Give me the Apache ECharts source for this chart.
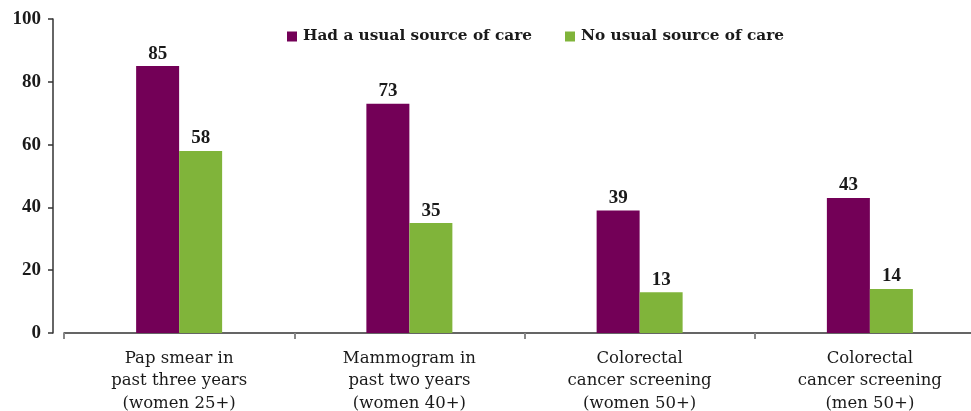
<!DOCTYPE html>
<html>
<head>
<meta charset="utf-8">
<script src="https://cdn.jsdelivr.net/npm/echarts@6/dist/echarts.min.js"></script>
<style>
html,body{margin:0;padding:0;background:#fff;}
#chart{width:971px;height:411px;}
</style>
</head>
<body>
<div id="chart"></div>
<script>
var categories = [
  "Pap smear in\npast three years\n(women 25+)",
  "Mammogram in\npast two years\n(women 40+)",
  "Colorectal\ncancer screening\n(women 50+)",
  "Colorectal\ncancer screening\n(men 50+)"
];
var seriesNames = ["Had a usual source of care", "No usual source of care"];
var hadUsualSource = [85, 73, 39, 43];
var noUsualSource = [58, 35, 13, 14];
var yTicks = [0, 20, 40, 60, 80, 100];

var NUMFONT = "'Liberation Serif', 'Times New Roman', serif";
var TXTFONT = "'DejaVu Serif', serif";
var chart = echarts.init(document.getElementById('chart'), null, {renderer: 'canvas'});
var labelStyle = {
  show: true, position: 'top', distance: 3,
  fontFamily: NUMFONT, fontWeight: 'bold', fontSize: 19, color: '#1a1a1a'
};
chart.setOption({
  animation: false,
  backgroundColor: '#ffffff',
  legend: {
    left: 282, top: 24,
    itemWidth: 10, itemHeight: 10, itemGap: 33,
    icon: 'rect',
    textStyle: {fontFamily: TXTFONT, fontWeight: 'bold', fontSize: 15.3, color: '#1a1a1a', padding: [0, 0, 0, 1]},
    data: seriesNames
  },
  grid: {left: 64, width: 921, top: 19, bottom: 78, containLabel: false, outerBoundsMode: 'none'},
  xAxis: {
    type: 'category',
    data: categories,
    axisLine: {lineStyle: {color: '#333333', width: 1.5}},
    axisTick: {show: true, length: 6, lineStyle: {color: '#888888', width: 2}},
    axisLabel: {
      interval: 0, margin: 14,
      fontFamily: TXTFONT, fontSize: 16.5, lineHeight: 22.5, color: '#1a1a1a'
    }
  },
  yAxis: {
    type: 'value', min: yTicks[0], max: yTicks[yTicks.length-1], interval: 20,
    offset: 11,
    splitLine: {show: false},
    axisLine: {show: true, lineStyle: {color: '#333333', width: 1.5}},
    axisTick: {show: true, length: 5, lineStyle: {color: '#333333', width: 1.5}},
    axisLabel: {margin: 12, fontFamily: NUMFONT, fontWeight: 'bold', fontSize: 19, color: '#1a1a1a'}
  },
  series: [
    {
      name: seriesNames[0], type: 'bar', data: hadUsualSource,
      barWidth: 43, barGap: '0%',
      itemStyle: {color: '#730057'},
      label: labelStyle
    },
    {
      name: seriesNames[1], type: 'bar', data: noUsualSource,
      barWidth: 43, barGap: '0%',
      itemStyle: {color: '#80B43A'},
      label: labelStyle
    }
  ]
});
</script>
</body>
</html>
